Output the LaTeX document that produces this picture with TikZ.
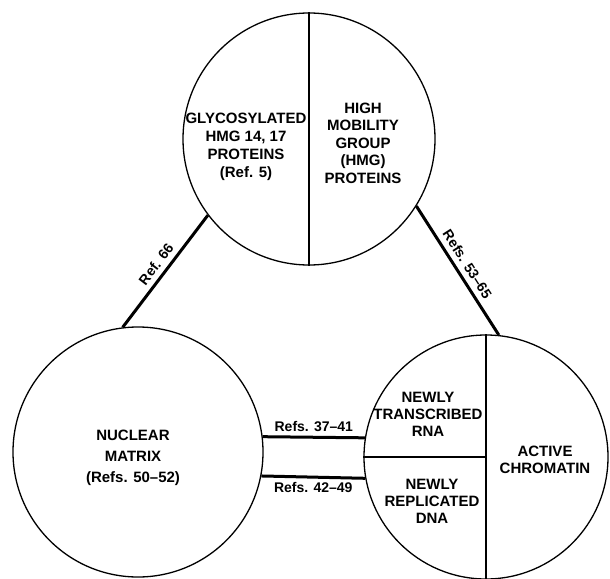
\documentclass[tikz,border=0pt]{standalone}
\usepackage{fontspec}
\setmainfont{Liberation Sans}
\begin{document}
\begin{tikzpicture}[x=1pt,y=-1pt,
  ring/.style={circle,draw,line width=1.3pt,inner sep=0pt},
  divider/.style={line width=1.3pt},
  link/.style={line width=3pt},
  lbl/.style={font=\bfseries\fontsize{15}{18}\selectfont,align=center,inner sep=0pt},
  reflbl/.style={font=\bfseries\fontsize{14}{16}\selectfont,inner sep=0pt}]
\useasboundingbox (0,0) rectangle (610,578);
% circles
\node[ring,minimum size=252pt] (top) at (309,139) {};
\node[ring,minimum size=250pt] (left) at (138,452) {};
\node[ring,minimum size=244pt] (right) at (486,457) {};
% dividers
\draw[divider] (top.north) -- (top.south);
\draw[divider] (right.north) -- (right.south);
\draw[divider] (right.west) -- (right.center);
% texts
\node[lbl] (glyco) at (246,147) {GLYCOSYLATED\\HMG 14, 17\\PROTEINS\\(Ref. 5)};
\node[lbl,font=\bfseries\fontsize{15}{17.5}\selectfont] (hmg) at (363,143) {HIGH\\MOBILITY\\GROUP\\(HMG)\\PROTEINS};
\node[lbl,font=\bfseries\fontsize{15}{21}\selectfont] (matrix) at (133,458) {NUCLEAR\\MATRIX\\(Refs. 50--52)};
\node[lbl,font=\bfseries\fontsize{15}{17}\selectfont] (rna) at (428,414) {NEWLY\\TRANSCRIBED\\RNA};
\node[lbl,font=\bfseries\fontsize{15}{17}\selectfont] (dna) at (432,501) {NEWLY\\REPLICATED\\DNA};
\node[lbl,font=\bfseries\fontsize{15}{17}\selectfont] (chrom) at (545,460) {ACTIVE\\CHROMATIN};
% connectors
\draw[link] (left.97) -- node[reflbl,sloped,above=5pt] (r66) {Ref. 66} (top.217);
\draw[link] (top.328) -- node[reflbl,sloped,above=5pt] (r53) {Refs. 53--65} (right.84);
\draw[link] (left.7) -- node[reflbl,above=4pt] (r37) {Refs. 37--41} (right.171);
\draw[link] (left.-11.5) -- node[reflbl,below=4pt] (r42) {Refs. 42--49} (right.190);
\end{tikzpicture}
\end{document}
